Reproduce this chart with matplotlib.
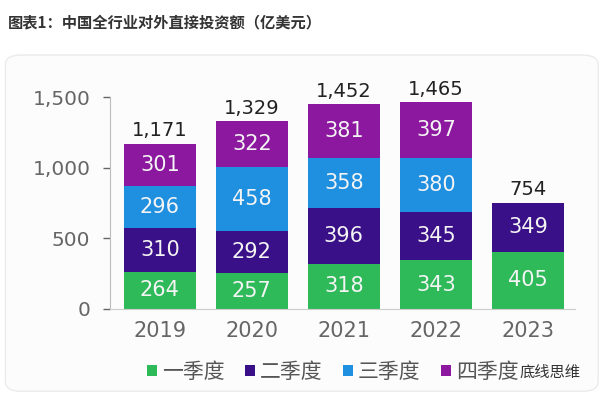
import matplotlib.pyplot as plt
import numpy as np
from matplotlib.patches import FancyBboxPatch

plt.rcParams['font.family'] = ['DejaVu Sans', 'Noto Sans CJK SC']

# ---- dane ----
years = ['2019', '2020', '2021', '2022', '2023']
q1 = [264, 257, 318, 343, 405]
q2 = [310, 292, 396, 345, 349]
q3 = [296, 458, 358, 380, 0]
q4 = [301, 322, 381, 397, 0]
totals = [1171, 1329, 1452, 1465, 754]
series_names = ['一季度', '二季度', '三季度', '四季度']
colors = ['#2fba5a', '#3a1088', '#1f8fe0', '#8b189f']

fig = plt.figure(figsize=(6, 3.96), dpi=100)
fig.patch.set_facecolor('white')

# tlo panelu (pod osiami)
panel = FancyBboxPatch((0.009, 0.012), 0.988, 0.849, boxstyle='round,pad=0,rounding_size=0.025',
                       transform=fig.transFigure, facecolor='#fcfcfc', edgecolor='#ebebeb',
                       linewidth=1.0, zorder=-5)
fig.patches.append(panel)

fig.text(0.013, 0.944, '图表1：中国全行业对外直接投资额（亿美元）', fontsize=11, fontweight='bold',
         color='#333333', family=['Noto Sans CJK SC', 'DejaVu Sans'], va='center')

ax = fig.add_axes([0.183, 0.22, 0.775, 0.57])
ax.set_facecolor('none')
x = np.arange(len(years))
w = 0.78
bottom = np.zeros(len(years))
for vals, c, name in zip([q1, q2, q3, q4], colors, series_names):
    vals = np.array(vals)
    ax.bar(x, vals, w, bottom=bottom, color=c, label=name, zorder=2)
    for xi, v, b in zip(x, vals, bottom):
        if v > 0:
            ax.text(xi, b + v / 2, f'{v}', ha='center', va='center', color='#f4f4f4',
                    fontsize=15, zorder=3)
    bottom += vals

for xi, t in zip(x, totals):
    ax.text(xi, t + 25, f'{t:,}', ha='center', va='bottom', color='#222222', fontsize=14)

ax.set_ylim(0, 1600)
ax.set_xlim(-0.543, 4.51)
ax.set_yticks([0, 500, 1000, 1500])
ax.set_yticklabels([f'{v:,}' for v in [0, 500, 1000, 1500]])
ax.set_xticks(x)
ax.set_xticklabels(years)
ax.tick_params(axis='y', colors='#666666', labelsize=14.5, length=5, width=1, pad=9)
ax.tick_params(axis='x', colors='#666666', labelsize=15, length=0, pad=9)
for s in ['top', 'right']:
    ax.spines[s].set_visible(False)
ax.spines['left'].set_color('#bbbbbb')
ax.spines['bottom'].set_color('#cccccc')
ax.spines['left'].set_bounds(0, 1500)

leg = fig.legend(loc='center', bbox_to_anchor=(0.555, 0.06), ncol=4, frameon=False,
                 prop={'family': ['Noto Sans CJK SC', 'DejaVu Sans'], 'size': 15},
                 handlelength=0.45, handleheight=0.45, handletextpad=0.25, columnspacing=1.0,
                 labelcolor='#555555')

fig.text(0.968, 0.06, '底线思维', fontsize=11, color='#333333', ha='right', va='center',
         family=['Noto Sans CJK SC', 'DejaVu Sans'], zorder=5)

fig.savefig('out.png', dpi=100)
